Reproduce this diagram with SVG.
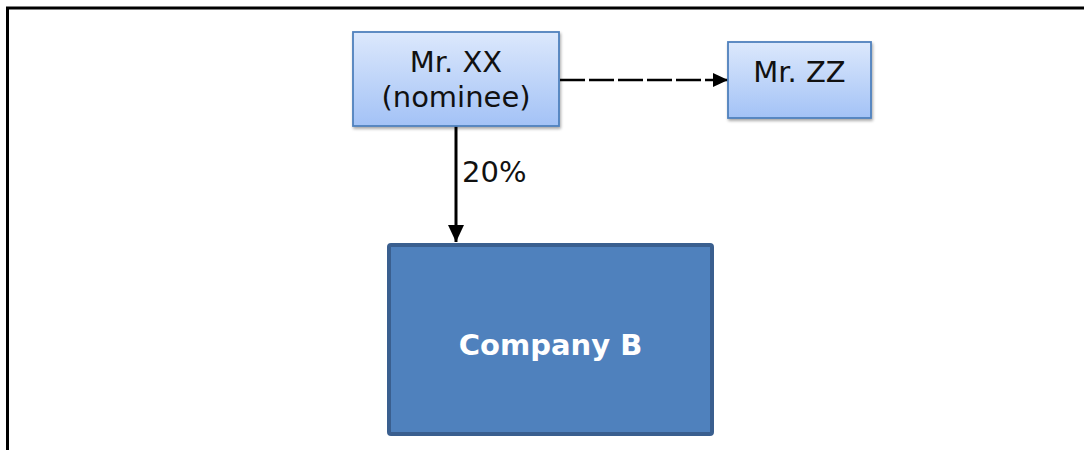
<svg xmlns="http://www.w3.org/2000/svg" width="1084" height="450" viewBox="0 0 1084 450">
<defs>
<linearGradient id="lg" x1="0" y1="0" x2="0" y2="1">
<stop offset="0" stop-color="#dce8fc"/>
<stop offset="1" stop-color="#a3c2f6"/>
</linearGradient>
<filter id="sh" x="-10%" y="-10%" width="125%" height="130%">
<feGaussianBlur in="SourceAlpha" stdDeviation="1.5"/>
<feOffset dx="1" dy="2" result="b"/>
<feComponentTransfer><feFuncA type="linear" slope="0.35"/></feComponentTransfer>
<feMerge><feMergeNode/><feMergeNode in="SourceGraphic"/></feMerge>
</filter>
<marker id="ah" markerWidth="17" markerHeight="16" refX="17" refY="8" orient="auto" markerUnits="userSpaceOnUse">
<path d="M0,0 L17,8 L0,16 Z" fill="#000"/>
</marker>
<marker id="ah2" markerWidth="15" markerHeight="14" refX="15" refY="7" orient="auto" markerUnits="userSpaceOnUse">
<path d="M0,0 L15,7 L0,14 Z" fill="#000"/>
</marker>
</defs>
<style>
.lt{fill:url(#lg);stroke:#4f81bd;stroke-width:1.8;filter:url(#sh)}
.t{font-family:"DejaVu Sans",Verdana,sans-serif;font-size:29px;fill:#111;text-anchor:middle}
.tb{font-family:"DejaVu Sans",Verdana,sans-serif;font-size:29px;font-weight:bold;fill:#fff;text-anchor:middle}
</style>
<rect width="1084" height="450" fill="#fff"/>
<rect x="7.5" y="8" width="1100" height="500" fill="none" stroke="#000" stroke-width="3"/>
<g id="connectors" stroke="#000" fill="none">
<line x1="560" y1="80" x2="728" y2="80" stroke-width="2.6" stroke-dasharray="25 4" marker-end="url(#ah2)"/>
<line x1="456" y1="126" x2="456" y2="242" stroke-width="3" marker-end="url(#ah)"/>
<text x="462" y="182" class="t" style="text-anchor:start" stroke="none">20%</text>
</g>
<g id="mrxx">
<rect class="lt" x="353" y="32" width="206" height="94"/>
<text class="t" x="456" y="72">Mr. XX</text>
<text class="t" x="456" y="107">(nominee)</text>
</g>
<g id="mrzz">
<rect class="lt" x="728" y="42" width="143" height="76"/>
<text class="t" x="799.5" y="82">Mr. ZZ</text>
</g>
<g id="companyb">
<rect x="389" y="245" width="323" height="189" rx="2" fill="#4f81bd" stroke="#3a5f8f" stroke-width="4"/>
<text class="tb" x="550.5" y="355">Company B</text>
</g>
</svg>
